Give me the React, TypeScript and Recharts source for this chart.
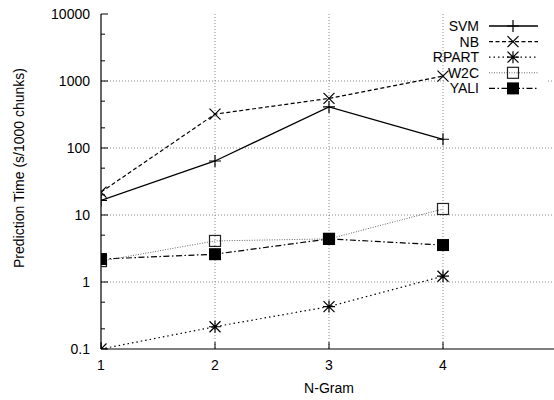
import { LineChart, Line, XAxis, YAxis, CartesianGrid } from "recharts";

const ngrams = [1, 2, 3, 4];
const svm = [16.5, 64, 410, 135];
const nb = [22, 320, 550, 1180];
const rpart = [0.1, 0.215, 0.43, 1.22];
const w2c = [2.05, 4.1, 4.4, 12.3];
const yali = [2.2, 2.6, 4.4, 3.56];

const xTicks = [1, 2, 3, 4];
const yMajor = [0.1, 1, 10, 100, 1000, 10000];
const yMinor = [0.2, 0.5, 2, 5, 20, 50, 200, 500, 2000, 5000];
const yLabels: Record<number, string> = { 0.1: "0.1", 1: "1", 10: "10", 100: "100", 1000: "1000", 10000: "10000" };

const data = ngrams.map((n, i) => ({
  n,
  SVM: svm[i],
  NB: nb[i],
  RPART: rpart[i],
  W2C: w2c[i],
  YALI: yali[i],
}));

const FONT = "'Liberation Sans', Arial, Helvetica, sans-serif";
const FS = 14;

type Shape = "plus" | "cross" | "star" | "box" | "fbox";

function Marker({ cx, cy, shape }: { cx: number; cy: number; shape: Shape }) {
  if (cx == null || cy == null || isNaN(cx) || isNaN(cy)) return null;
  const s = 6;
  const d = 5.5;
  const st = { stroke: "#000", strokeWidth: 1.2, fill: "none" };
  if (shape === "plus")
    return <path d={`M${cx - s},${cy}H${cx + s}M${cx},${cy - s}V${cy + s}`} {...st} />;
  if (shape === "cross")
    return <path d={`M${cx - d},${cy - d}L${cx + d},${cy + d}M${cx - d},${cy + d}L${cx + d},${cy - d}`} {...st} />;
  if (shape === "star")
    return (
      <path
        d={`M${cx - d},${cy - d}L${cx + d},${cy + d}M${cx - d},${cy + d}L${cx + d},${cy - d}M${cx},${cy - s}V${cy + s}M${cx - s},${cy}H${cx + s}`}
        {...st}
      />
    );
  if (shape === "box")
    return <rect x={cx - 5.5} y={cy - 5.5} width={11} height={11} fill="none" stroke="#222" strokeWidth={1.2} />;
  return <rect x={cx - 6} y={cy - 6} width={12} height={12} fill="#000" />;
}

const series: { key: string; dash?: string; color: string; width: number; shape: Shape }[] = [
  { key: "SVM", color: "#000", width: 1.3, shape: "plus" },
  { key: "NB", dash: "4 2.5", color: "#000", width: 1.2, shape: "cross" },
  { key: "RPART", dash: "1.5 3", color: "#000", width: 1.2, shape: "star" },
  { key: "W2C", dash: "1 1.5", color: "#666", width: 1, shape: "box" },
  { key: "YALI", dash: "6 2.5 1.5 2.5", color: "#000", width: 1.2, shape: "fbox" },
];

function LegendBox() {
  const rowY = [26, 41.6, 57.2, 72.8, 88.4];
  return (
    <g>
      <rect x={445} y={17} width={101} height={80} fill="#fff" />
      {series.map((s, i) => (
        <g key={s.key}>
          <text
            x={479}
            y={rowY[i]}
            dy={5}
            textAnchor="end"
            fontFamily={FONT}
            fontSize={FS}
            fill="#000"
          >
            {s.key}
          </text>
          <line
            x1={489}
            x2={538}
            y1={rowY[i]}
            y2={rowY[i]}
            stroke={s.color}
            strokeWidth={s.width}
            strokeDasharray={s.dash}
          />
          <Marker cx={513} cy={rowY[i]} shape={s.shape} />
        </g>
      ))}
      <text
        transform="translate(24,168) rotate(-90)"
        textAnchor="middle"
        fontFamily={FONT}
        fontSize={FS}
        fill="#000"
      >
        Prediction Time (s/1000 chunks)
      </text>
      <text x={329} y={393} textAnchor="middle" fontFamily={FONT} fontSize={FS} fill="#000">
        N-Gram
      </text>
    </g>
  );
}

function YTick(props: any) {
  const { x, y, payload } = props;
  const v = payload.value;
  const label = yLabels[v];
  const major = label !== undefined;
  return (
    <g>
      <line x1={x} x2={x + (major ? 7 : 4)} y1={y} y2={y} stroke="#000" strokeWidth={1} />
      {major && (
        <text x={x - 11} y={y} dy={5} textAnchor="end" fontFamily={FONT} fontSize={FS} fill="#000">
          {label}
        </text>
      )}
    </g>
  );
}

function XTick(props: any) {
  const { x, y, payload } = props;
  return (
    <g>
      <line x1={x} x2={x} y1={y} y2={y - 7} stroke="#000" strokeWidth={1} />
      <text x={x} y={y + 21} textAnchor="middle" fontFamily={FONT} fontSize={FS} fill="#000">
        {payload.value}
      </text>
    </g>
  );
}

function TopTick(props: any) {
  const { x, y } = props;
  return <line x1={x} x2={x} y1={y} y2={y + 7} stroke="#000" strokeWidth={1} />;
}

export default function App() {
  return (
    <div
      style={{
        position: "absolute",
        left: 0,
        top: 0,
        width: 554,
        height: 400,
        overflow: "hidden",
        background: "#fff",
      }}
    >
      <LineChart width={560} height={400} data={data} margin={{ top: 14, right: 3, bottom: 0, left: 0 }}>
        <CartesianGrid
          stroke="#888"
          strokeDasharray="1 2"
          horizontalValues={[1, 10, 100, 1000]}
          verticalValues={[2, 3, 4]}
        />
        <XAxis
          dataKey="n"
          type="number"
          domain={[1, 5]}
          ticks={xTicks}
          allowDataOverflow
          height={51}
          tickSize={0}
          tickMargin={0}
          tickLine={false}
          axisLine={{ stroke: "#000", strokeWidth: 1.2 }}
          tick={<XTick />}
        />
        <XAxis
          xAxisId="top"
          orientation="top"
          dataKey="n"
          type="number"
          domain={[1, 5]}
          ticks={xTicks}
          allowDataOverflow
          height={0}
          tickSize={0}
          tickMargin={0}
          tickLine={false}
          axisLine={{ stroke: "#000", strokeWidth: 1.2 }}
          tick={<TopTick />}
        />
        <YAxis
          type="number"
          scale="log"
          domain={[0.1, 10000]}
          ticks={[...yMajor, ...yMinor]}
          interval={0}
          allowDataOverflow
          width={101}
          tickSize={0}
          tickMargin={0}
          tickLine={false}
          axisLine={{ stroke: "#000", strokeWidth: 1.2 }}
          tick={<YTick />}
        />
        <LegendBox />
        {series.map((s) => (
          <Line
            key={s.key}
            dataKey={s.key}
            stroke={s.color}
            strokeWidth={s.width}
            strokeDasharray={s.dash}
            isAnimationActive={false}
            dot={(p: any) => <Marker key={`${s.key}-${p.index}`} cx={p.cx} cy={p.cy} shape={s.shape} />}
            activeDot={false}
            type="linear"
          />
        ))}
      </LineChart>
    </div>
  );
}
